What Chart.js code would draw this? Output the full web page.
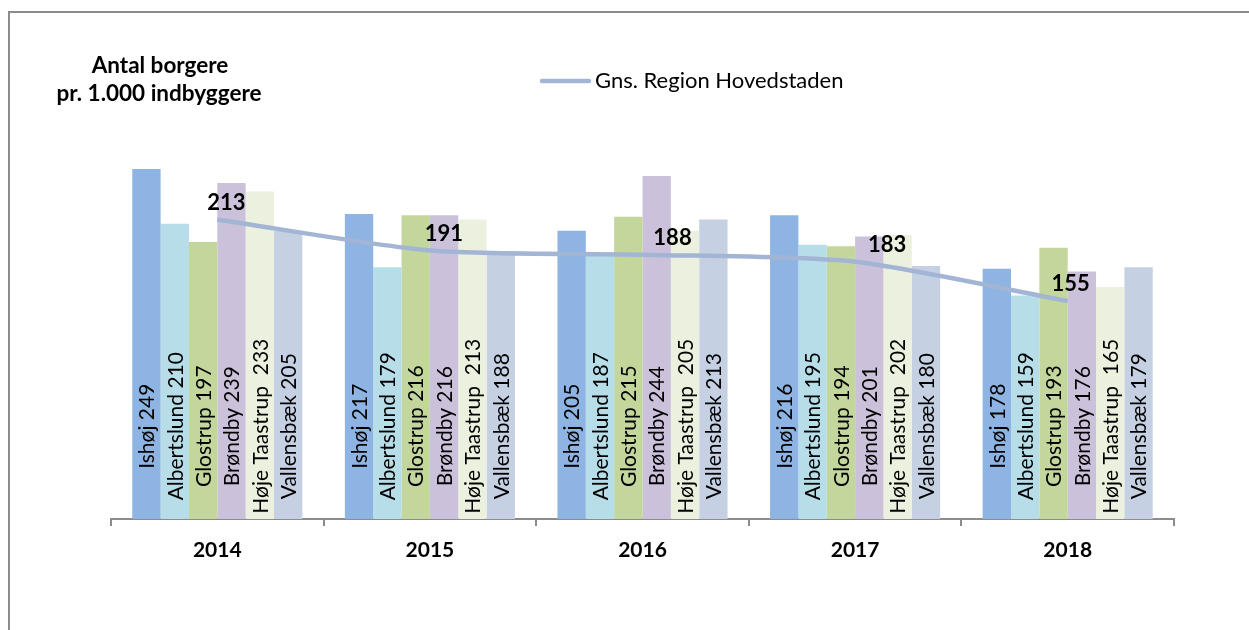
<!DOCTYPE html>
<html lang="da">
<head>
<meta charset="UTF-8">
<title>Antal borgere pr. 1.000 indbyggere</title>
<script src="https://cdn.jsdelivr.net/npm/chart.js@4"></script>
<style>
  html, body { margin: 0; padding: 0; background: #fff; overflow: hidden; }
  #wrap { position: relative; width: 1249px; height: 630px; }
  #frame { position: absolute; left: 8px; top: 11px; width: 1270px; height: 650px; border: 2px solid #8c8c8c; box-sizing: border-box; }
  canvas { position: absolute; left: 0; top: 0; }
</style>
</head>
<body>
<div id="wrap">
  <div id="frame"></div>
  <canvas id="chart" width="1249" height="630"></canvas>
</div>
<script>
// ---- data ----
const years = ["2014", "2015", "2016", "2017", "2018"];
const kommuner = ["Ishøj", "Albertslund", "Glostrup", "Brøndby", "Høje Taastrup ", "Vallensbæk"];
const ishoj = [249, 217, 205, 216, 178];
const albertslund = [210, 179, 187, 195, 159];
const glostrup = [197, 216, 215, 194, 193];
const brondby = [239, 216, 244, 201, 176];
const hojeTaastrup = [233, 213, 205, 202, 165];
const vallensbaek = [205, 188, 213, 180, 179];
const regionAvg = [213, 191, 188, 183, 155];
const regionLabel = "Gns. Region Hovedstaden";

// ---- style ----
const FONT = "Lato, 'Liberation Sans', Arial, sans-serif";
const barColors = ["#8eb4e3", "#b7dee8", "#c3d69b", "#ccc1da", "#ebf1de", "#c5d0e3"];
const lineColor = "#a3b5d5";
const avgLabelDx = [9, 14, 30, 32, 3]; // nudges for the bold average labels

const barSeries = [ishoj, albertslund, glostrup, brondby, hojeTaastrup, vallensbaek];

const datasets = barSeries.map((vals, i) => ({
  type: "bar",
  label: kommuner[i],
  data: vals,
  backgroundColor: barColors[i],
  borderWidth: 0,
  categoryPercentage: 0.8,
  barPercentage: 1.0,
  order: 1
}));

datasets.push({
  type: "line",
  label: regionLabel,
  data: regionAvg,
  borderColor: lineColor,
  borderWidth: 4.5,
  pointRadius: 0,
  tension: 0.25,
  fill: false,
  order: 0
});

// labels in bars, bold avg labels, title and legend
const chartText = {
  id: "chartText",
  afterDraw(chart) {
    const ctx = chart.ctx;
    const yScale = chart.scales.y;
    ctx.save();

    // rotated labels inside bars
    ctx.font = "21px " + FONT;
    ctx.fillStyle = "#000";
    ctx.textAlign = "center";
    ctx.textBaseline = "middle";
    chart.data.datasets.forEach((ds, i) => {
      if (ds.type !== "bar") return;
      chart.getDatasetMeta(i).data.forEach((bar, j) => {
        ctx.save();
        ctx.translate(bar.x + 1, yScale.getPixelForValue(66));
        ctx.rotate(-Math.PI / 2);
        ctx.fillText(ds.label + " " + ds.data[j], 0, 0);
        ctx.restore();
      });
    });

    // average labels
    const li = chart.data.datasets.findIndex(d => d.type === "line");
    ctx.font = "bold 22px " + FONT;
    chart.getDatasetMeta(li).data.forEach((pt, j) => {
      ctx.fillText(String(regionAvg[j]), pt.x + avgLabelDx[j], pt.y - 17);
    });

    // title
    ctx.font = "bold 22.5px " + FONT;
    ctx.fillText("Antal borgere", 160, 66);
    ctx.fillText("pr. 1.000 indbyggere", 159, 94);

    // legend
    ctx.strokeStyle = lineColor;
    ctx.lineWidth = 4.5;
    ctx.lineCap = "round";
    ctx.beginPath();
    ctx.moveTo(542, 81);
    ctx.lineTo(589, 81);
    ctx.stroke();
    ctx.font = "22px " + FONT;
    ctx.textAlign = "left";
    ctx.fillText(regionLabel, 595, 81);

    ctx.restore();
  }
};

new Chart(document.getElementById("chart"), {
  data: { labels: years, datasets: datasets },
  options: {
    responsive: false,
    animation: false,
    devicePixelRatio: 1,
    layout: { padding: { left: 111, right: 75, top: 139.4, bottom: 0 } },
    plugins: { legend: { display: false }, tooltip: { enabled: false } },
    scales: {
      x: {
        offset: true,
        grid: { display: true, offset: true, drawOnChartArea: false, drawTicks: true, tickLength: 7, color: "#8c8c8c", lineWidth: 2 },
        border: { display: true, color: "#8c8c8c", width: 2 },
        ticks: { font: { family: FONT, size: 21, weight: "bold" }, color: "#000", padding: 12 },
        afterFit(scale) { scale.height = 111; }
      },
      y: { display: false, min: 0, max: 270 }
    }
  },
  plugins: [chartText]
});
</script>
</body>
</html>
